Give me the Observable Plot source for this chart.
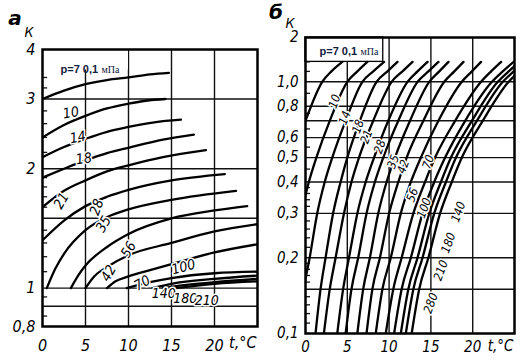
<!DOCTYPE html>
<html><head><meta charset="utf-8">
<script src="https://cdn.jsdelivr.net/npm/d3@7"></script>
<script src="https://cdn.jsdelivr.net/npm/@observablehq/plot@0.6"></script>
<style>
body{margin:0;background:#fff;}
#wrap{position:relative;width:530px;height:363px;overflow:hidden;background:#fff;}
#a,#b{position:absolute;top:0;}
#a{left:0;} #b{left:265px;}
</style></head><body><div id="wrap"><div id="a"></div><div id="b"></div></div>
<script>
// ---------- shared ----------
const xTicks = [0, 5, 10, 15, 20];
const gridT = [5, 10, 15, 20];
const pressures = ["7","10","14","18","21","28","35","42","56","70","100","140","180","210"];
const pressuresB = ["7","10","14","18","21","28","35","42","56","70","100","140","180","210","280"];

// ---------- panel а ----------
const yTicksA = [0.8, 1, 2, 3, 4];
const yLabelsA = ["0,8", "1", "2", "3", "4"];
const gridKA = [0.9, 1, 1.5, 2, 3];
const minorKA = [0.85, 0.95, 1.1, 1.2, 1.3, 1.4, 1.6, 1.7, 1.8, 1.9, 2.2, 2.4, 2.6, 2.8, 3.2, 3.4, 3.6, 3.8];
const tA = [
  [0, 2.5, 5, 7.5, 10, 12.5, 14.7],
  [0, 2.5, 5, 7.5, 10, 12, 14.3],
  [0, 2.5, 5, 7.5, 10, 13, 16.1],
  [0, 2.5, 5, 7.5, 10, 14, 17.6],
  [0, 2.5, 5, 7.5, 10, 14, 19],
  [0, 2.5, 5, 7.5, 10, 15, 21.2],
  [0.5, 1.5, 2.5, 5, 7.5, 10, 15, 22.5],
  [3.3, 4.2, 5, 7.5, 10, 15, 20, 23.8],
  [5, 6, 7.5, 10, 15, 20, 25],
  [7.5, 8.5, 10, 12.5, 15, 20, 25],
  [9.8, 12.5, 15, 20, 25],
  [12.8, 15, 20, 25],
  [14, 17, 20, 25],
  [15.5, 18, 20, 25]
];
const kA = [
  [3.0, 3.15, 3.27, 3.35, 3.40, 3.46, 3.49],
  [2.4, 2.58, 2.72, 2.84, 2.92, 2.97, 3.0],
  [2.14, 2.27, 2.38, 2.48, 2.55, 2.62, 2.66],
  [1.9, 2.0, 2.10, 2.19, 2.26, 2.37, 2.44],
  [1.6, 1.76, 1.87, 1.97, 2.04, 2.14, 2.23],
  [1.32, 1.48, 1.61, 1.70, 1.77, 1.87, 1.94],
  [1.0, 1.12, 1.22, 1.40, 1.51, 1.58, 1.67, 1.76],
  [1.0, 1.08, 1.14, 1.27, 1.37, 1.50, 1.57, 1.61],
  [1.0, 1.07, 1.13, 1.21, 1.30, 1.39, 1.45],
  [1.0, 1.04, 1.07, 1.11, 1.15, 1.23, 1.29],
  [1.0, 1.035, 1.06, 1.09, 1.10],
  [1.0, 1.025, 1.055, 1.075],
  [1.0, 1.02, 1.035, 1.055],
  [1.0, 1.015, 1.025, 1.04]
];
const labelTextA = ["10","14","18","21","28","35","42","56","70","100","140","180","210"];
const labelTA = [3.3, 4.1, 4.8, 2.2, 6.3, 7.1, 7.7, 10.0, 11.6, 16.4, 14.1, 16.6, 19.1];
const labelKA = [2.77, 2.40, 2.12, 1.66, 1.60, 1.45, 1.09, 1.25, 1.03, 1.13, 0.97, 0.94, 0.933];
const labelRotA = [-10, -10, -8, -60, -70, -60, -60, -60, -30, -15, 0, 0, 0];

// ---------- panel б ----------
const yTicksB = [0.1, 0.2, 0.3, 0.4, 0.5, 0.6, 0.8, 1.0, 1.5];
const yLabelsB = ["0,1", "0,2", "0,3", "0,4", "0,5", "0,6", "0,8", "1,0", "2"];
const gridKB = [0.15, 0.2, 0.3, 0.4, 0.5, 0.6, 0.7, 0.8, 1.0];
const minorKB = [0.11,0.12,0.13,0.14,0.16,0.17,0.18,0.19,0.22,0.24,0.26,0.28,0.32,0.34,0.36,0.38,0.45,0.55,0.65,0.75,0.9,1.1,1.2,1.3,1.4];
const kB = [0.1, 0.15, 0.2, 0.3, 0.4, 0.5, 0.7, 1.0, 1.1, 1.2];
const tB = [
  [-5.4, -4.8, -4.1, -3.3, -2.4, -1.5, 0.0, 2.0, 3.1, 4.4],
  [-2.8, -2.2, -1.5, -0.5, 0.4, 1.3, 2.9, 5.0, 6.2, 7.4],
  [-0.8, -0.2, 0.5, 1.4, 2.3, 3.2, 4.8, 6.8, 8.1, 9.4],
  [1.2, 1.8, 2.4, 3.3, 4.2, 5.0, 6.5, 8.5, 9.8, 11.0],
  [2.2, 2.9, 3.6, 4.6, 5.5, 6.4, 8.1, 10.3, 11.6, 12.8],
  [3.8, 4.5, 5.2, 6.2, 7.2, 8.2, 9.9, 12.2, 13.4, 14.6],
  [4.8, 5.5, 6.3, 7.3, 8.3, 9.3, 11.1, 13.4, 14.7, 15.9],
  [6.2, 6.9, 7.7, 8.7, 9.7, 10.7, 12.5, 14.8, 16.0, 17.1],
  [7.3, 8.0, 8.9, 10.0, 11.1, 12.1, 14.1, 16.6, 17.8, 18.9],
  [8.4, 9.2, 10.2, 11.4, 12.6, 13.8, 15.9, 18.7, 19.9, 21.0],
  [9.6, 10.5, 11.5, 12.9, 14.3, 15.5, 17.9, 21.0, 22.2, 23.4],
  [10.6, 11.5, 12.6, 14.0, 15.4, 16.7, 19.1, 22.3, 23.6, 24.9],
  [11.4, 12.3, 13.4, 14.8, 16.2, 17.4, 19.9, 23.0, 24.3, 25.6],
  [12.0, 12.9, 14.0, 15.4, 16.8, 18.0, 20.5, 23.6, 24.9, 26.2],
  [12.7, 13.6, 14.7, 16.1, 17.5, 18.7, 21.2, 24.3, 25.6, 26.9]
];
const labelTextB = ["10","14","18","21","28","35","42","56","70","100","140","180","210","280"];
const labelTB = [3.5, 4.7, 6.3, 7.3, 8.9, 10.5, 11.7, 12.8, 14.7, 14.2, 18.3, 17.1, 16.2, 15.0];
const labelKB = [0.835, 0.719, 0.664, 0.605, 0.552, 0.481, 0.46, 0.355, 0.48, 0.315, 0.304, 0.229, 0.178, 0.132];

const FONT = "'Liberation Sans Narrow','DejaVu Sans Condensed','Roboto Condensed',sans-serif";

function panel(cfg) {
  const rows = cfg.pressures.flatMap((p, i) => cfg.t[i].map((t, j) => ({p, t, k: cfg.k[i][j]})));
  const labels = cfg.labelText.map((s, i) => ({s, t: cfg.labelT[i], k: cfg.labelK[i], r: cfg.labelRot[i]}));
  const it = {fontFamily: FONT, fontStyle: "italic"};
  return Plot.plot({
    width: 265, height: 363,
    marginLeft: cfg.ml, marginRight: cfg.mr, marginTop: cfg.mt, marginBottom: cfg.mb,
    x: {domain: [0, 25]},
    y: {type: "log", domain: cfg.yDomain},
    style: {fontFamily: FONT, background: "white", color: "#000", overflow: "visible"},
    marks: [
      Plot.ruleX(gridT, {stroke: "#111", strokeWidth: 1.4}),
      Plot.ruleY(cfg.gridK, {stroke: "#111", strokeWidth: 1.4}),
      Plot.ruleY(cfg.minorK, {x1: () => 0, x2: () => 0.6, stroke: "#111", strokeWidth: 1.3}),
      Plot.rect([0], {x1: () => 0, x2: () => cfg.box[0], y1: () => cfg.box[1], y2: () => cfg.box[2],
        fill: "white", stroke: cfg.boxStroke, strokeWidth: 1.3}),
      Plot.line(rows, {x: "t", y: "k", z: "p", stroke: "#000", strokeWidth: 2.3, curve: "monotone-x", clip: true}),
      Plot.text(labels, {x: "t", y: "k", text: "s", rotate: "r", fontSize: cfg.labelSize, ...it,
        fill: "#000", stroke: "white", strokeWidth: 3}),
      Plot.text(["p=7 0,1"], {frameAnchor: "top-left", dx: cfg.noteDx, dy: cfg.noteDy, textAnchor: "start",
        fontFamily: "'Liberation Sans',Arial,sans-serif", fontWeight: "bold", fontSize: 11, fill: "#102040"}),
      Plot.text(["мПа"], {frameAnchor: "top-left", dx: cfg.noteDx + 41, dy: cfg.noteDy, textAnchor: "start",
        fontFamily: "'Liberation Serif',serif", fontSize: 10, fill: "#102040"}),
      Plot.frame({stroke: "#000", strokeWidth: 2.5}),
      Plot.axisX(xTicks, {tickSize: 0, tickPadding: cfg.xPad, fontSize: cfg.tickSize, label: null, ...it}),
      Plot.axisY(cfg.yTicks, {tickSize: 0, tickPadding: 7, fontSize: cfg.tickSize, label: null, ...it,
        tickFormat: d => cfg.yLabels[cfg.yTicks.indexOf(d)]}),
      Plot.text(["t,°C"], {frameAnchor: "bottom-right", textAnchor: "end", dx: -1, dy: cfg.tLabelDy,
        fontSize: cfg.tickSize, ...it})
    ]
  });
}

const plotA = panel({
  pressures, t: tA, k: kA, labelText: labelTextA, labelT: labelTA, labelK: labelKA, labelRot: labelRotA,
  ml: 42, mr: 8, mt: 49, mb: 37, yDomain: [0.8, 4], gridK: gridKA, minorK: minorKA,
  yTicks: yTicksA, yLabels: yLabelsA, box: [10, 3.55, 4], boxStroke: "none",
  noteDx: 18, noteDy: 16, labelSize: 14, tickSize: 16, xPad: 13, tLabelDy: 21
});
const plotB = panel({
  pressures: pressuresB, t: tB, k: tB.map(() => kB), labelText: labelTextB, labelT: labelTB, labelK: labelKB,
  labelRot: labelTextB.map(() => -70),
  ml: 40, mr: 16, mt: 37, mb: 30, yDomain: [0.1, 1.5], gridK: gridKB, minorK: minorKB,
  yTicks: yTicksB, yLabels: yLabelsB, box: [9.3, 1.2, 1.5], boxStroke: "#000",
  noteDx: 14, noteDy: 10, labelSize: 12, tickSize: 15, xPad: 8, tLabelDy: 17
});
document.getElementById("a").append(plotA);
document.getElementById("b").append(plotB);

function title(svg, letter, lx, ly, kx, ky) {
  const s = d3.select(svg);
  s.append("text").attr("x", lx).attr("y", ly).attr("font-family", "'DejaVu Sans',sans-serif")
    .attr("font-weight", "bold").attr("font-style", "italic").attr("font-size", 20).text(letter);
  s.append("text").attr("x", kx).attr("y", ky).attr("font-family", FONT)
    .attr("font-style", "italic").attr("font-size", 14).text("К");
}
title(plotA, "а", 15, 25, 29, 37);
title(plotB, "б", 11, 19, 25, 28);
</script></body></html>
